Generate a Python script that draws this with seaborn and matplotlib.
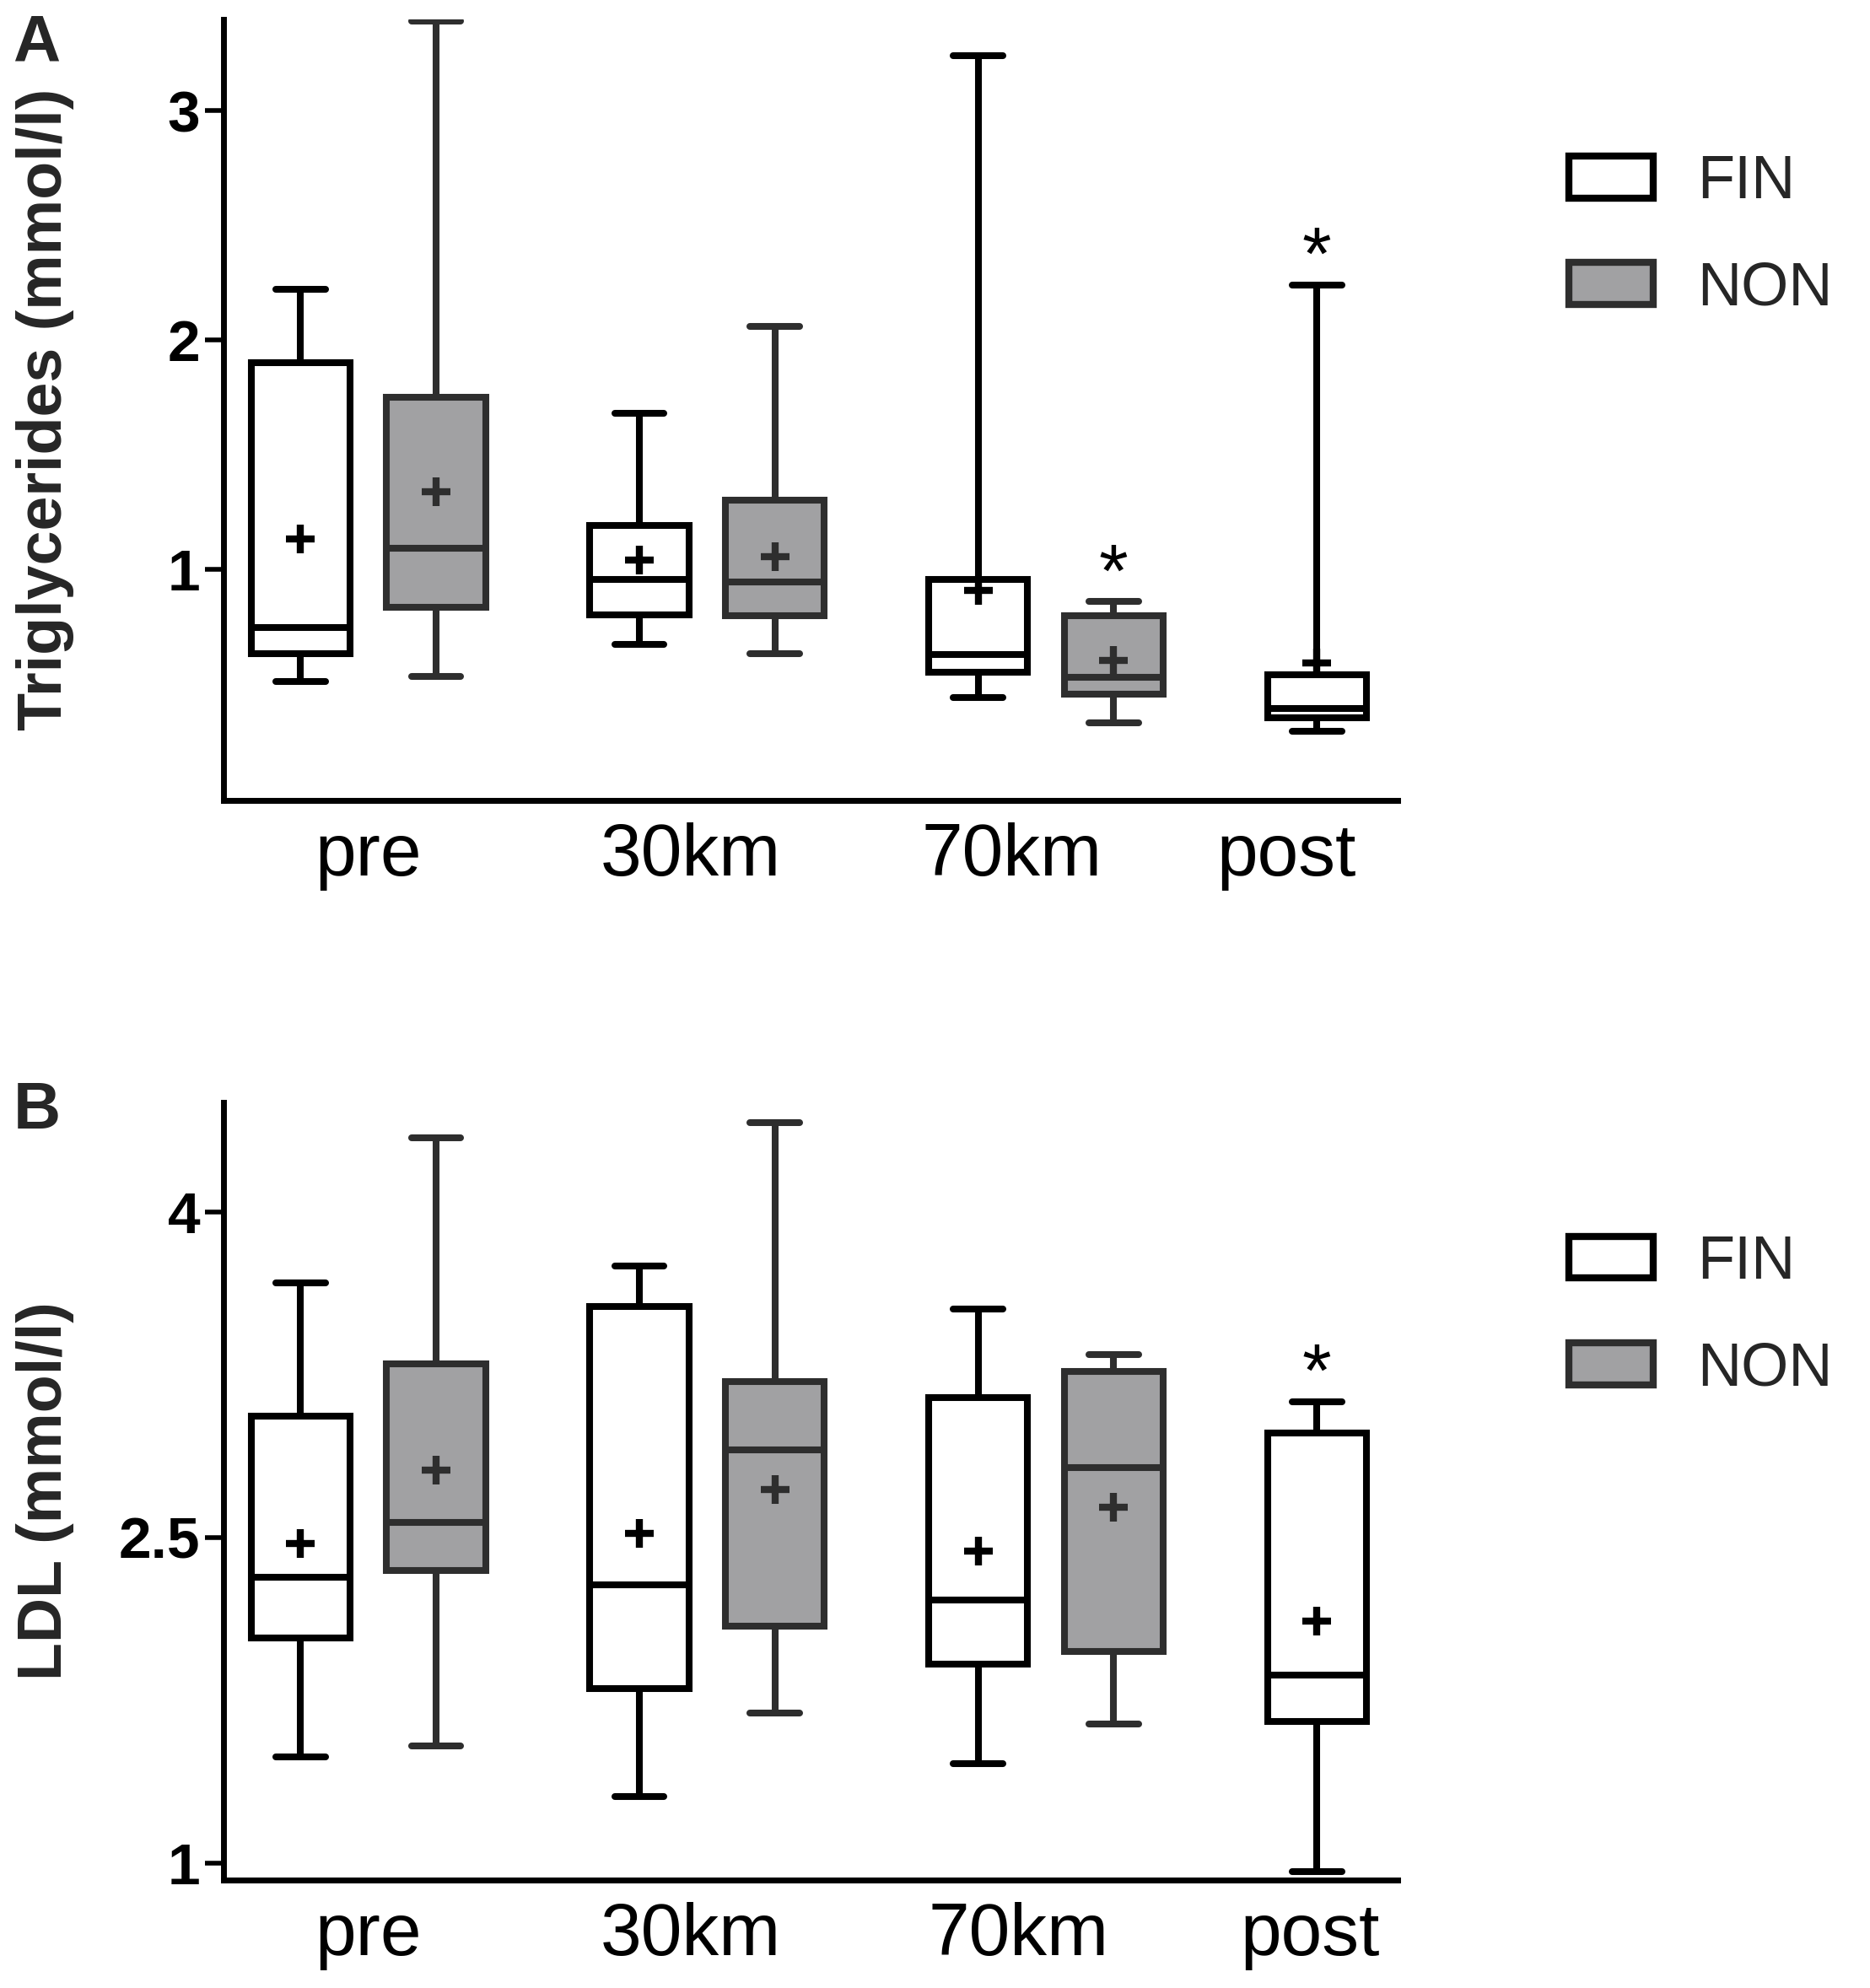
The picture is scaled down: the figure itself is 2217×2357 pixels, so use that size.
import numpy as np
import pandas as pd
import matplotlib
matplotlib.use("Agg")
import matplotlib.pyplot as plt
import seaborn as sns
from matplotlib.patches import Patch

# ---------------- data ----------------
categories = ["pre", "30km", "70km", "post"]
groups = ["FIN", "NON"]

# Panel A: Triglycerides (mmol/l)
tg_fin_min = [0.51, 0.67, 0.44, 0.29]
tg_fin_q1 = [0.63, 0.80, 0.55, 0.35]
tg_fin_med = [0.745, 0.956, 0.625, 0.39]
tg_fin_q3 = [1.90, 1.19, 0.956, 0.54]
tg_fin_max = [2.22, 1.68, 3.24, 2.24]
tg_fin_mean = [1.13, 1.04, 0.905, 0.59]

tg_non_min = [0.53, 0.63, 0.33]
tg_non_q1 = [0.834, 0.795, 0.453]
tg_non_med = [1.089, 0.945, 0.527]
tg_non_q3 = [1.748, 1.30, 0.797]
tg_non_max = [3.39, 2.06, 0.858]
tg_non_mean = [1.338, 1.055, 0.60]

tg_stars = [("70km", "NON"), ("post", "FIN")]
tg_yticks = [1, 2, 3]
tg_yticklabels = ["1", "2", "3"]

# Panel B: LDL (mmol/l)
ldl_fin_min = [1.488, 1.307, 1.459, 0.96]
ldl_fin_q1 = [2.038, 1.804, 1.915, 1.652]
ldl_fin_med = [2.319, 2.284, 2.213, 1.868]
ldl_fin_q3 = [3.061, 3.564, 3.143, 2.980]
ldl_fin_max = [3.675, 3.751, 3.553, 3.126]
ldl_fin_mean = [2.471, 2.518, 2.436, 2.114]

ldl_non_min = [1.541, 1.693, 1.640]
ldl_non_q1 = [2.348, 2.091, 1.974]
ldl_non_med = [2.570, 2.904, 2.822]
ldl_non_q3 = [3.301, 3.219, 3.266]
ldl_non_max = [4.342, 4.412, 3.342]
ldl_non_mean = [2.81, 2.722, 2.64]

ldl_stars = [("post", "FIN")]
ldl_yticks = [1, 2.5, 4]
ldl_yticklabels = ["1", "2.5", "4"]

# ---------------- style ----------------
sns.set_style("ticks")
plt.rcParams["font.family"] = ["Liberation Sans", "DejaVu Sans"]

FILL = {"FIN": "white", "NON": "#a1a1a3"}
EDGE = {"FIN": "black", "NON": "#2e2e2e"}
LW = 5.8
DODGE = 0.4


def five_number_frame(cats, group, mins, q1s, meds, q3s, maxs):
    rows = []
    for c, a, b, m, d, e in zip(cats, mins, q1s, meds, q3s, maxs):
        for v in (a, b, m, d, e):
            rows.append({"time": c, "group": group, "value": v})
    return pd.DataFrame(rows)


def mean_frame(cats, group, means):
    return pd.DataFrame({"time": list(cats), "group": group, "value": means})


def draw_panel(ax, fin_stats, non_stats, fin_mean, non_mean, stars, ylim,
               yticks, yticklabels, ylabel, xtick_pos):
    fin_df = five_number_frame(categories, "FIN", *fin_stats)
    non_df = five_number_frame(categories[:len(non_stats[0])], "NON", *non_stats)
    common = dict(x="time", y="value", hue="group", order=categories,
                  hue_order=groups, dodge=True, width=0.8, gap=0.27,
                  whis=(0, 100), showfliers=False, linewidth=LW,
                  palette=FILL, legend=False, ax=ax)
    sns.boxplot(data=fin_df, linecolor=EDGE["FIN"], **common)
    sns.boxplot(data=non_df, linecolor=EDGE["NON"], **common)

    means = pd.concat([mean_frame(categories, "FIN", fin_mean),
                       mean_frame(categories[:len(non_mean)], "NON", non_mean)])
    sns.pointplot(data=means, x="time", y="value", hue="group", order=categories,
                  hue_order=groups, palette=EDGE, dodge=DODGE, errorbar=None,
                  markers="+", linestyles="none", markersize=24,
                  markeredgewidth=6, legend=False, ax=ax, zorder=10)

    # significance stars above the top whisker
    maxima = {"FIN": dict(zip(categories, fin_stats[4])),
              "NON": dict(zip(categories, non_stats[4]))}
    offsets = {g: -DODGE / 2 + DODGE * i for i, g in enumerate(groups)}
    for cat, g in stars:
        xpos = categories.index(cat) + offsets[g]
        ax.annotate("*", (xpos, maxima[g][cat]), xytext=(0, 5),
                    textcoords="offset points", ha="center", va="baseline",
                    fontsize=64, color="black")

    ax.set_xlim(-0.428, 3.039)
    ax.set_ylim(*ylim)
    ax.set_yticks(yticks)
    ax.set_yticklabels(yticklabels, fontweight="bold")
    ax.set_xticks(xtick_pos)
    ax.set_xticklabels(categories)
    ax.set_xlabel("")
    ax.set_ylabel(ylabel, fontsize=53, fontweight="bold")
    ax.yaxis.set_label_coords(-0.127, 0.5)
    for s in ("top", "right"):
        ax.spines[s].set_visible(False)
    for s in ("left", "bottom"):
        ax.spines[s].set_linewidth(5)
        ax.spines[s].set_color("black")
    ax.tick_params(axis="y", length=16, width=4, pad=4, labelsize=50,
                   color="black", labelcolor="black")
    ax.tick_params(axis="x", length=0, pad=19, labelsize=63, labelcolor="black")


fig = plt.figure(figsize=(22.17, 23.57), dpi=100)
axA = fig.add_axes([0.1195, 0.5974, 0.628, 0.3930])
axB = fig.add_axes([0.1195, 0.0543, 0.628, 0.3912])

draw_panel(axA,
           (tg_fin_min, tg_fin_q1, tg_fin_med, tg_fin_q3, tg_fin_max),
           (tg_non_min, tg_non_q1, tg_non_med, tg_non_q3, tg_non_max),
           tg_fin_mean, tg_non_mean, tg_stars, (-0.01, 3.40),
           tg_yticks, tg_yticklabels, "Triglycerides (mmol/l)",
           [0, 0.95, 1.90, 2.71])

draw_panel(axB,
           (ldl_fin_min, ldl_fin_q1, ldl_fin_med, ldl_fin_q3, ldl_fin_max),
           (ldl_non_min, ldl_non_q1, ldl_non_med, ldl_non_q3, ldl_non_max),
           ldl_fin_mean, ldl_non_mean, ldl_stars, (0.922, 4.505),
           ldl_yticks, ldl_yticklabels, "LDL (mmol/l)",
           [0, 0.95, 1.92, 2.78])

# legends
for yc in (0.8813, 0.3379):
    handles = [Patch(facecolor=FILL[g], edgecolor=EDGE[g], linewidth=6) for g in groups]
    fig.legend(handles, groups, loc="center left", bbox_to_anchor=(0.839, yc),
               frameon=False, fontsize=52, handlelength=1.38, handleheight=0.68,
               handletextpad=0.72, labelspacing=0.82, borderpad=0, borderaxespad=0)

# panel letters
fig.text(0.007, 0.9935, "A", fontsize=56, fontweight="bold", va="top", ha="left")
fig.text(0.007, 0.4565, "B", fontsize=56, fontweight="bold", va="top", ha="left")

fig.savefig("out.png", dpi=100)
